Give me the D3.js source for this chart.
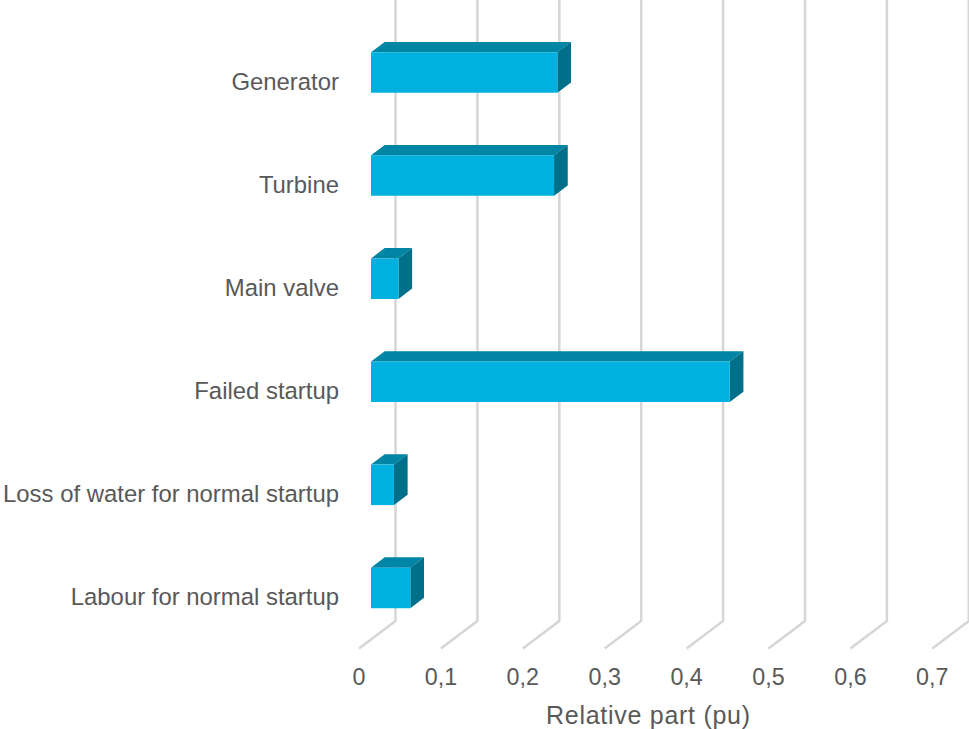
<!DOCTYPE html>
<html><head><meta charset="utf-8">
<script src="https://cdn.jsdelivr.net/npm/d3@7"></script>
<style>
html,body{margin:0;padding:0;background:#fff;}
svg{display:block;font-family:"Liberation Sans",Arial,sans-serif;}
</style></head>
<body>
<svg id="chart" width="969" height="729"></svg>
<script>
const categories = ["Generator","Turbine","Main valve","Failed startup","Loss of water for normal startup","Labour for normal startup"];
const values = [0.2275, 0.2235, 0.0335, 0.438, 0.028, 0.048];
const tickValues = [0, 0.1, 0.2, 0.3, 0.4, 0.5, 0.6, 0.7];
const tickLabels = ["0","0,1","0,2","0,3","0,4","0,5","0,6","0,7"];
const axisTitle = "Relative part (pu)";

const svg = d3.select("#chart");
const x0 = 395.5, floorY = 621;
const depthDX = -36.5, depthDY = 27.5;   // back plane -> front plane offset
const zBarFront = 0.671, zBarBack = 0.296;

const x = d3.scaleLinear().domain([0, 0.7]).range([x0, x0 + 573.3]);
const y = d3.scaleBand().domain(categories).range([2.5, floorY]).paddingInner(0.607).paddingOuter(0.3035);

const proj = (v, yy, z) => [x(v) + depthDX * z, yy + depthDY * z];

// gridlines: vertical on back wall, then diagonal on floor
const grid = svg.append("g");
tickValues.forEach(v => {
  const p0 = [x(v), -5], p1 = [x(v), floorY], p2 = proj(v, floorY, 1);
  grid.append("path")
    .attr("d", d3.line()([p0, p1, p2]))
    .attr("fill", "none").attr("stroke", "#d6d6d6").attr("stroke-width", 2.5)
    .attr("stroke-linejoin", "round");
});

// bars
const colFront = "#00b0de", colTop = "#0085a4", colSide = "#00708a";
const bars = svg.append("g");
categories.forEach((c, i) => {
  const v = values[i];
  const yt = y(c), yb = y(c) + y.bandwidth();
  const fTL = proj(0, yt, zBarFront), fTR = proj(v, yt, zBarFront), fBR = proj(v, yb, zBarFront), fBL = proj(0, yb, zBarFront);
  const bTL = proj(0, yt, zBarBack), bTR = proj(v, yt, zBarBack), bBR = proj(v, yb, zBarBack);
  const poly = pts => "M" + pts.map(p => p.join(",")).join("L") + "Z";
  bars.append("path").attr("d", poly([fTL, bTL, bTR, fTR])).attr("fill", colTop);
  bars.append("path").attr("d", poly([fTR, bTR, bBR, fBR])).attr("fill", colSide);
  bars.append("path").attr("d", poly([fTL, fTR, fBR, fBL])).attr("fill", colFront);
});

// category labels (front plane)
svg.append("g").selectAll("text").data(categories).join("text")
  .attr("x", 339)
  .attr("y", d => proj(0, y(d) + y.bandwidth() / 2, 1)[1])
  .attr("dy", "0.35em")
  .attr("text-anchor", "end")
  .attr("font-size", 23.9).attr("fill", "#595959")
  .text(d => d);

// tick labels
svg.append("g").selectAll("text").data(tickValues).join("text")
  .attr("x", d => proj(d, floorY, 1)[0])
  .attr("y", 685)
  .attr("text-anchor", "middle")
  .attr("font-size", 23.3).attr("fill", "#595959")
  .text((d, i) => tickLabels[i]);

// axis title
svg.append("text")
  .attr("x", 648).attr("y", 724)
  .attr("text-anchor", "middle")
  .attr("font-size", 25).attr("fill", "#595959")
  .attr("textLength", 204).attr("lengthAdjust", "spacing")
  .text(axisTitle);
</script>
</body></html>
